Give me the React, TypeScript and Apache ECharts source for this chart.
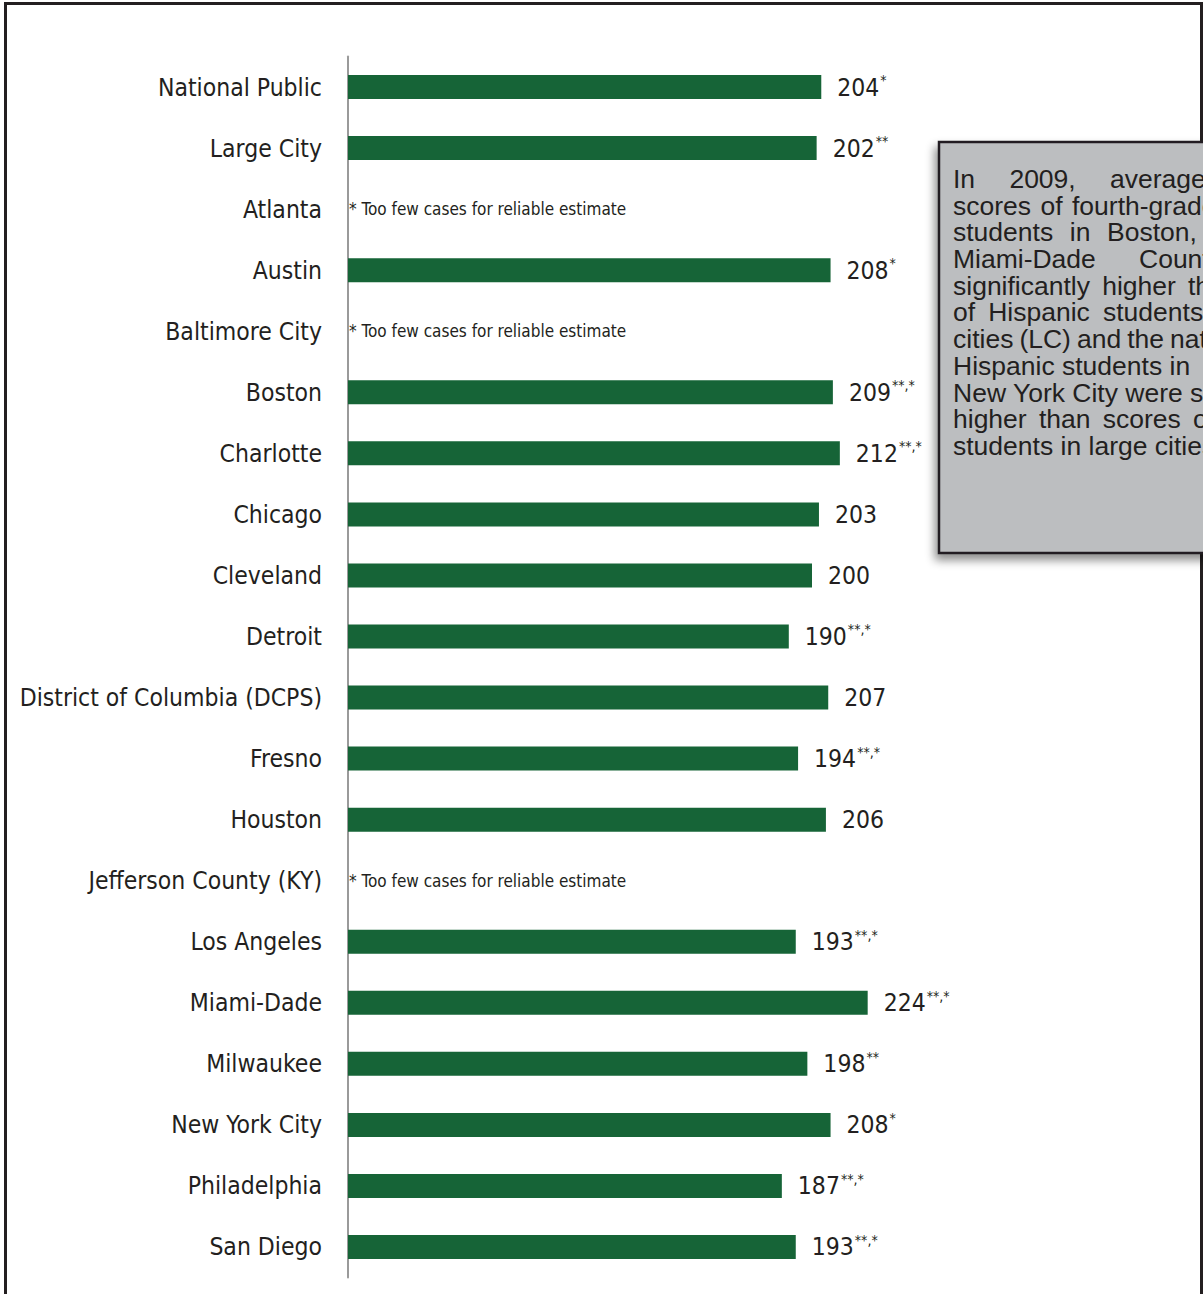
import React, { useEffect, useRef } from "react";
import * as echarts from "echarts";

const categories = [
  "National Public",
  "Large City",
  "Atlanta",
  "Austin",
  "Baltimore City",
  "Boston",
  "Charlotte",
  "Chicago",
  "Cleveland",
  "Detroit",
  "District of Columbia (DCPS)",
  "Fresno",
  "Houston",
  "Jefferson County (KY)",
  "Los Angeles",
  "Miami-Dade",
  "Milwaukee",
  "New York City",
  "Philadelphia",
  "San Diego",
];

const scores: (number | null)[] = [
  204, 202, null, 208, null, 209, 212, 203, 200, 190, 207, 194, 206, null, 193, 224, 198, 208, 187, 193,
];

const marks = [
  "*", "**", "", "*", "", "**,*", "**,*", "", "", "**,*", "", "**,*", "", "", "**,*", "**,*", "**", "*", "**,*", "**,*",
];

const NOTE = "* Too few cases for reliable estimate";

// each line: words, and x of the last visible word (for justified lines), or null
const boxLines: { words: string[]; lastX: number | null }[] = [
  { words: ["In", "2009,", "average"], lastX: 1110 },
  { words: ["scores", "of", "fourth-grade"], lastX: 1072 },
  { words: ["students", "in", "Boston,"], lastX: 1107 },
  { words: ["Miami-Dade", "County"], lastX: 1139 },
  { words: ["significantly", "higher", "than"], lastX: 1188 },
  { words: ["of", "Hispanic", "students"], lastX: 1103 },
  { words: ["cities", "(LC)", "and", "the", "nation"], lastX: 1170 },
  { words: ["Hispanic students in"], lastX: null },
  { words: ["New York City were significantly"], lastX: null },
  { words: ["higher", "than", "scores", "of"], lastX: 1193 },
  { words: ["students in large cities"], lastX: null },
];

const GREEN = "#166437";
const INK = "#231f20";
const CONDENSED = '"DejaVu Sans Condensed", "Liberation Sans Narrow", sans-serif';
const BOX_SIZE = 26.5;
const BOX_FAMILY = '"Liberation Sans", Arial, sans-serif';
const BOX_LINE = 26.7;

export default function App() {
  const ref = useRef<HTMLDivElement>(null);

  useEffect(() => {
    if (!ref.current) return;
    const chart = echarts.init(ref.current, undefined, { renderer: "svg" });

    const cv = document.createElement("canvas");
    const ctx = cv.getContext("2d")!;
    ctx.font = `${BOX_SIZE}px ${BOX_FAMILY}`;
    const measure = (s: string) => ctx.measureText(s).width;

    const data = scores.map((v) =>
      v == null
        ? {
            value: 0,
            label: {
              show: true,
              position: "right",
              distance: 1,
              formatter: NOTE,
              fontSize: 17,
              fontFamily: CONDENSED,
              color: INK,
            },
          }
        : { value: v }
    );

    // paragraph inside the grey box, justified with fixed-width rich tokens
    const left = 953;
    const rich: Record<string, any> = {};
    const baseTok = {
      fontSize: BOX_SIZE,
      fontFamily: BOX_FAMILY,
      color: INK,
      lineHeight: BOX_LINE,
    };
    const paraLines = boxLines.map((line, i) => {
      if (line.lastX == null || line.words.length < 2) {
        const key = `p${i}`;
        rich[key] = { ...baseTok };
        return `{${key}|${line.words.join(" ")}}`;
      }
      const widths = line.words.map(measure);
      const pre = widths.slice(0, -1).reduce((a, b) => a + b, 0);
      const gap = Math.max(6, (line.lastX - left - pre) / (line.words.length - 1));
      return line.words
        .map((w, j) => {
          const key = `w${i}_${j}`;
          rich[key] = j < line.words.length - 1 ? { ...baseTok, width: widths[j] + gap } : { ...baseTok };
          return `{${key}|${w}}`;
        })
        .join("");
    });

    chart.setOption({
      animation: false,
      backgroundColor: "#ffffff",
      grid: {
        left: 348,
        top: 56.5,
        width: 580,
        height: 1221,
        containLabel: false,
        outerBoundsMode: "none",
      },
      xAxis: {
        type: "value",
        min: 0,
        max: 250,
        show: false,
      },
      yAxis: {
        type: "category",
        data: categories,
        inverse: true,
        axisLine: { show: true, lineStyle: { color: "#9a9a9a", width: 2 } },
        axisTick: { show: false },
        splitLine: { show: false },
        axisLabel: {
          margin: 26,
          fontSize: 24.5,
          fontFamily: CONDENSED,
          color: INK,
        },
      },
      series: [
        {
          type: "bar",
          data,
          barWidth: 24,
          itemStyle: { color: GREEN },
          label: {
            show: true,
            position: "right",
            distance: 16,
            color: INK,
            fontFamily: CONDENSED,
            formatter: (p: any) => {
              const m = marks[p.dataIndex];
              return m ? `{v|${p.value}}{s|${m}}` : `{v|${p.value}}`;
            },
            rich: {
              v: { fontSize: 24.5, fontFamily: CONDENSED, color: INK, lineHeight: 28 },
              s: {
                fontSize: 14,
                fontFamily: CONDENSED,
                color: INK,
                verticalAlign: "top",
                lineHeight: 28,
                padding: [0, 0, 0, 1],
              },
            },
          },
        },
      ],
      graphic: [
        {
          type: "rect",
          z: 1,
          silent: true,
          shape: { x: 5.5, y: 3.5, width: 1196, height: 1310 },
          style: { fill: "none", stroke: INK, lineWidth: 3 },
        },
        {
          type: "rect",
          z: 10,
          silent: true,
          shape: { x: 939, y: 142, width: 300, height: 411 },
          style: {
            fill: "#bcbec0",
            stroke: INK,
            lineWidth: 2.5,
            shadowBlur: 10,
            shadowColor: "rgba(0,0,0,0.45)",
            shadowOffsetX: -3,
            shadowOffsetY: 6,
          },
        },
        {
          type: "text",
          x: left,
          y: 179 - BOX_LINE / 2,
          z: 12,
          silent: true,
          style: {
            text: paraLines.join("\n"),
            rich,
            fill: INK,
            fontSize: BOX_SIZE,
            fontFamily: BOX_FAMILY,
            lineHeight: BOX_LINE,
            textAlign: "left",
            textVerticalAlign: "top",
          },
        },
      ],
    });

    return () => chart.dispose();
  }, []);

  return (
    <div
      ref={ref}
      style={{ position: "absolute", left: 0, top: 0, width: 1203, height: 1294 }}
    />
  );
}
